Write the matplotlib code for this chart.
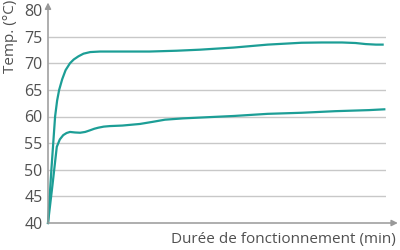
import matplotlib
matplotlib.use('Agg')
import matplotlib.pyplot as plt

# values (x in arbitrary minutes, 0..100 across the grid)
upper_x = [0, 1.0, 2.1, 2.7, 3.3, 4.2, 5.2, 6.5, 7.6, 9.0, 10.5, 12.5, 15.4,
           22, 30, 38, 45, 55, 65, 75, 81, 87, 91, 94, 97, 99]
upper_y = [40, 50, 60, 63, 65, 67, 68.7, 70, 70.7, 71.3, 71.8, 72.1, 72.2,
           72.2, 72.2, 72.35, 72.55, 72.95, 73.5, 73.85, 73.9, 73.9, 73.8, 73.6, 73.5, 73.5]

lower_x = [0, 1.3, 2.6, 3.5, 4.5, 5.5, 6.5, 8.0, 9.5, 11.0, 12.4, 13.7, 14.9,
           16.5, 18.3, 22, 27.2, 31, 34.6, 40, 45, 55, 65, 75, 85, 95, 99.5]
lower_y = [40, 47, 54.3, 55.7, 56.5, 56.9, 57.1, 57.0, 56.95, 57.1, 57.4, 57.7, 57.9,
           58.1, 58.2, 58.3, 58.6, 59.0, 59.4, 59.65, 59.8, 60.1, 60.5, 60.7, 61.0, 61.2, 61.35]

yticks = [40, 45, 50, 55, 60, 65, 70, 75, 80]

teal = '#1c9e96'
grey_txt = '#505050'

plt.rcParams['font.family'] = ['Open Sans', 'DejaVu Sans']

fig = plt.figure(figsize=(4, 2.5), dpi=100)
ax = fig.add_axes([0.12, 0.108, 0.845, 0.852])
ax.set_xlim(0, 100)
ax.set_ylim(40, 80)

# grid lines (skip bottom = axis, top = arrow)
ax.hlines(yticks[1:-1], 0, 100, colors='#c8c8c8', lw=1, zorder=1)

ax.plot(upper_x, upper_y, color=teal, lw=1.6, solid_joinstyle='round', zorder=3, clip_on=False)
ax.plot(lower_x, lower_y, color=teal, lw=1.6, solid_joinstyle='round', zorder=3, clip_on=False)

for s in ax.spines.values():
    s.set_visible(False)

# axes with arrow heads
arr = dict(arrowstyle='-|>', color='#999999', lw=1.1, mutation_scale=9, shrinkA=0, shrinkB=0)
ax.annotate('', xy=(0, 1.035), xytext=(0, 0), xycoords='axes fraction', arrowprops=arr)
ax.annotate('', xy=(1.035, 0), xytext=(0, 0), xycoords='axes fraction', arrowprops=arr)

ax.set_yticks(yticks)
ax.set_yticklabels([str(t) for t in yticks])
ax.set_xticks([])
ax.tick_params(axis='y', length=0, pad=4, labelsize=11.5, labelcolor=grey_txt)

fig.text(0.027, 0.855, 'Temp. (°C)', rotation=90, ha='center', va='center',
         fontsize=11, color=grey_txt)
fig.text(0.99, 0.04, 'Durée de fonctionnement (min)', ha='right', va='center',
         fontsize=11, color=grey_txt)

fig.savefig('out.png', dpi=100)
